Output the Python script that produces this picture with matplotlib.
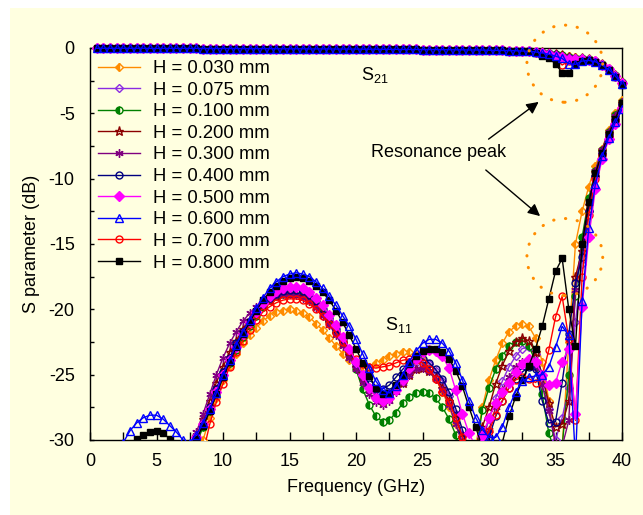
import numpy as np
import matplotlib.pyplot as plt
from matplotlib.patches import Ellipse, Rectangle
from matplotlib.ticker import MultipleLocator

plt.rcParams['font.family'] = ['Liberation Sans', 'DejaVu Sans']
plt.rcParams['mathtext.fontset'] = 'custom'
plt.rcParams['mathtext.rm'] = 'Liberation Sans'
plt.rcParams['mathtext.it'] = 'Liberation Sans'
plt.rcParams['axes.unicode_minus'] = False

labels = ['H = 0.030 mm', 'H = 0.075 mm', 'H = 0.100 mm', 'H = 0.200 mm', 'H = 0.300 mm',
          'H = 0.400 mm', 'H = 0.500 mm', 'H = 0.600 mm', 'H = 0.700 mm', 'H = 0.800 mm']
colors = ['#FF8C00', '#8A2BE2', '#008000', '#8B0000', '#800080',
          '#000080', '#FF00FF', '#0000FF', '#FF0000', '#000000']

# S21 (dB), 0.5 - 33 GHz, same for every thickness
s21_low = [-0.02, -0.02, -0.02, -0.02, -0.02, -0.02, -0.02, -0.02, -0.03, -0.03,
           -0.03, -0.03, -0.03, -0.03, -0.03, -0.03, -0.04, -0.04, -0.04, -0.04,
           -0.04, -0.04, -0.05, -0.05, -0.05, -0.05, -0.05, -0.06, -0.06, -0.06,
           -0.06, -0.06, -0.07, -0.07, -0.07, -0.07, -0.08, -0.08, -0.08, -0.08,
           -0.09, -0.09, -0.09, -0.10, -0.10, -0.10, -0.11, -0.11, -0.11, -0.12,
           -0.12, -0.12, -0.13, -0.13, -0.14, -0.14, -0.15, -0.15, -0.16, -0.17,
           -0.18, -0.19, -0.20, -0.21, -0.23, -0.25]

# S21 (dB), 33.5 - 40 GHz
s21_030 = [-0.28, -0.32, -0.38, -0.45, -0.55, -0.65, -0.72, -0.78, -0.85, -1.00, -1.25, -1.60, -2.05, -2.60]
s21_075 = [-0.28, -0.33, -0.40, -0.48, -0.58, -0.68, -0.75, -0.80, -0.87, -1.02, -1.27, -1.62, -2.10, -2.65]
s21_100 = [-0.28, -0.32, -0.38, -0.46, -0.56, -0.66, -0.73, -0.79, -0.86, -1.00, -1.25, -1.60, -2.05, -2.60]
s21_200 = [-0.28, -0.33, -0.39, -0.47, -0.57, -0.67, -0.74, -0.80, -0.87, -1.01, -1.26, -1.61, -2.07, -2.62]
s21_300 = [-0.29, -0.34, -0.41, -0.49, -0.60, -0.70, -0.77, -0.82, -0.88, -1.02, -1.27, -1.62, -2.10, -2.65]
s21_400 = [-0.30, -0.36, -0.44, -0.54, -0.66, -0.78, -0.85, -0.88, -0.90, -1.03, -1.28, -1.64, -2.12, -2.70]
s21_500 = [-0.30, -0.37, -0.46, -0.58, -0.72, -0.85, -0.88, -0.88, -0.90, -1.03, -1.28, -1.64, -2.12, -2.70]
s21_600 = [-0.30, -0.38, -0.48, -0.62, -0.80, -1.20, -1.25, -1.00, -0.95, -1.05, -1.30, -1.65, -2.15, -2.75]
s21_700 = [-0.30, -0.40, -0.55, -0.80, -1.30, -1.00, -0.90, -0.92, -0.92, -1.04, -1.30, -1.65, -2.15, -2.75]
s21_800 = [-0.40, -0.60, -0.80, -1.20, -1.90, -1.90, -1.20, -1.00, -0.95, -1.05, -1.30, -1.68, -2.20, -2.80]

# S11 (dB), 6.5 - 40 GHz step 0.5 (blue from 2.5, black from 3.5)
s11_030 = [-36, -35, -33.5, -32, -30.0, -28.3, -26.8, -25.4, -24.3, -23.4,
           -22.6, -22.0, -21.4, -20.9, -20.5, -20.2, -20.1, -20.0, -20.1, -20.3,
           -20.6, -21.1, -21.6, -22.2, -22.8, -23.4, -23.9, -24.3, -24.5, -24.4,
           -24.1, -23.9, -23.6, -23.4, -23.3, -23.3, -23.5, -23.9, -24.5, -25.3,
           -26.3, -27.5, -28.8, -30.3, -31.5, -30.5, -27.5, -25.4, -23.9, -22.6,
           -21.7, -21.3, -21.1, -21.3, -22.2, -24.0, -27.0, -30.5, -30.6, -22.5,
           -15.0, -12.5, -10.6, -9.0, -7.7, -6.3, -5.0, -4.0]
s11_075 = [-34, -33, -31.5, -30.0, -28.8, -27.5, -26.1, -24.8, -23.7, -22.7,
           -21.8, -21.0, -20.3, -19.7, -19.2, -18.9, -18.7, -18.6, -18.6, -18.8,
           -19.1, -19.6, -20.2, -20.9, -21.7, -22.5, -23.4, -24.3, -25.3, -26.1,
           -26.6, -26.7, -26.4, -25.8, -25.1, -24.5, -24.1, -24.0, -24.2, -24.7,
           -25.5, -26.6, -28.0, -29.6, -31.0, -31.5, -30.2, -28.4, -26.8, -25.5,
           -24.4, -23.6, -23.0, -22.9, -23.4, -25.0, -27.6, -30.0, -28.3, -26.0,
           -21.0, -16.5, -12.5, -9.8, -8.0, -6.6, -5.4, -4.3]
s11_100 = [-35, -34, -32, -30.3, -29.0, -27.8, -26.5, -25.2, -24.1, -23.1,
           -22.1, -21.3, -20.5, -19.8, -19.3, -19.0, -18.8, -18.7, -18.7, -18.8,
           -19.1, -19.6, -20.2, -20.9, -21.7, -22.5, -23.3, -24.6, -26.1, -27.3,
           -28.2, -28.6, -28.5, -27.9, -27.2, -26.7, -26.4, -26.3, -26.4, -26.8,
           -27.5, -28.4, -29.6, -31.0, -32.0, -31.0, -27.7, -26.0, -24.6, -23.6,
           -22.8, -22.5, -22.4, -22.8, -24.0, -26.5, -29.5, -31.0, -30.5, -25.0,
           -19.0, -14.5, -11.5, -9.4, -7.8, -6.4, -5.1, -4.1]
s11_200 = [-34, -32.5, -31.0, -29.7, -28.4, -27.0, -25.6, -24.4, -23.3, -22.4,
           -21.5, -20.8, -20.2, -19.7, -19.3, -19.0, -18.8, -18.8, -18.8, -19.0,
           -19.3, -19.7, -20.3, -21.0, -21.8, -22.6, -23.5, -24.4, -25.3, -26.1,
           -26.7, -27.0, -26.8, -26.2, -25.6, -25.0, -24.6, -24.5, -24.7, -25.2,
           -26.0, -27.0, -28.3, -29.8, -31.0, -30.5, -29.0, -27.5, -25.7, -24.3,
           -23.2, -22.5, -22.2, -22.4, -23.3, -25.0, -27.2, -29.0, -28.8, -27.0,
           -17.5, -15.5, -12.0, -9.5, -7.9, -6.5, -5.3, -4.2]
s11_300 = [-33, -32, -30.6, -29.4, -28.0, -26.5, -25.0, -23.7, -22.6, -21.7,
           -20.9, -20.3, -19.8, -19.4, -19.1, -18.9, -18.8, -18.8, -18.9, -19.1,
           -19.4, -19.9, -20.5, -21.2, -22.0, -22.8, -23.7, -24.6, -25.6, -26.5,
           -27.1, -27.3, -27.0, -26.3, -25.6, -25.0, -24.6, -24.5, -24.7, -25.3,
           -26.2, -27.3, -28.8, -30.3, -31.5, -31.5, -30.5, -29.2, -27.5, -26.2,
           -25.2, -24.4, -24.0, -24.0, -24.5, -25.8, -27.8, -30.3, -30.5, -28.5,
           -18.5, -15.0, -11.8, -9.4, -7.8, -6.4, -5.2, -4.1]
s11_400 = [-34, -33, -31.5, -30.0, -28.8, -27.5, -26.1, -24.8, -23.7, -22.6,
           -21.7, -20.9, -20.2, -19.6, -19.1, -18.8, -18.6, -18.5, -18.5, -18.6,
           -18.9, -19.4, -20.0, -20.7, -21.5, -22.3, -23.2, -24.1, -25.0, -25.7,
           -26.1, -26.1, -25.8, -25.2, -24.6, -24.1, -23.8, -23.8, -24.1, -24.6,
           -25.3, -26.3, -27.6, -29.2, -30.8, -31.5, -31.0, -29.8, -28.2, -27.0,
           -26.0, -25.3, -24.8, -24.4, -24.6, -27.0, -28.7, -28.6, -25.6, -21.9,
           -18.0, -16.0, -12.5, -9.8, -8.1, -6.7, -5.5, -4.4]
s11_500 = [-33, -32, -31, -29.8, -28.8, -27.6, -26.3, -25.0, -23.9, -22.9,
           -21.9, -21.0, -20.2, -19.5, -19.0, -18.6, -18.4, -18.3, -18.3, -18.4,
           -18.7, -19.1, -19.7, -20.4, -21.2, -22.1, -23.0, -24.0, -25.0, -26.0,
           -26.8, -27.0, -26.8, -26.2, -25.4, -24.5, -23.8, -23.3, -23.1, -23.2,
           -23.6, -24.5, -26.2, -28.0, -29.5, -30.5, -29.7, -28.3, -27.2, -26.3,
           -25.6, -24.8, -24.2, -23.8, -24.0, -25.0, -25.8, -25.6, -24.0, -23.0,
           -28.0, -19.8, -14.5, -10.8, -8.5, -7.0, -5.8, -4.6]
s11_600 = [-30.2, -29.3, -28.7, -28.3, -28.1, -28.1, -28.4, -28.9,
           -29.4, -30.0, -30.2, -29.6, -28.7, -27.6, -26.4, -25.0, -23.9, -22.7,
           -21.7, -20.8, -19.9, -19.1, -18.4, -17.9, -17.5, -17.3, -17.2, -17.3,
           -17.5, -17.9, -18.4, -19.0, -19.7, -20.5, -21.3, -22.3, -23.4, -24.5,
           -25.5, -26.2, -26.4, -25.9, -25.0, -24.0, -23.2, -22.6, -22.3, -22.3,
           -22.6, -23.2, -24.1, -25.4, -27.0, -28.3, -29.2, -29.8, -29.8, -29.0,
           -27.5, -26.3, -25.5, -25.2, -25.1, -25.0, -24.4, -22.9, -21.3, -22.0,
           -31.5, -19.4, -13.8, -10.4, -8.3, -6.9, -5.7, -4.7]
s11_700 = [-36, -35, -34, -33, -31, -28.8, -27.1, -25.7, -24.4, -23.3,
           -22.4, -21.6, -20.8, -20.2, -19.8, -19.5, -19.3, -19.2, -19.2, -19.3,
           -19.6, -20.0, -20.5, -21.1, -21.8, -22.5, -23.2, -23.8, -24.2, -24.4,
           -24.5, -24.4, -24.3, -24.1, -23.9, -23.8, -23.9, -24.1, -24.6, -25.3,
           -26.3, -27.1, -28.3, -29.8, -31.0, -31.5, -30.5, -29.3, -28.1, -27.0,
           -26.0, -25.4, -25.2, -25.3, -25.6, -25.1, -23.1, -20.6, -19.0, -22.3,
           -28.5, -17.5, -12.8, -10.0, -8.2, -6.8, -5.6, -4.5]
s11_800 = [-29.9, -29.6, -29.4, -29.3, -29.5, -29.9,
           -30.6, -31.0, -30.8, -29.9, -28.9, -27.8, -26.5, -25.2, -24.0, -22.9,
           -21.9, -21.0, -20.1, -19.3, -18.7, -18.2, -17.8, -17.6, -17.5, -17.6,
           -17.8, -18.2, -18.7, -19.3, -20.1, -21.0, -22.0, -23.0, -24.1, -25.1,
           -26.0, -26.5, -26.4, -25.8, -25.0, -24.2, -23.6, -23.2, -23.0, -23.0,
           -23.3, -23.8, -24.7, -25.9, -27.5, -29.0, -30.6, -31.0, -30.8, -30.2,
           -28.2, -26.7, -25.4, -24.3, -23.0, -21.3, -19.2, -17.1, -16.1, -20.0,
           -22.8, -15.0, -11.8, -9.6, -8.0, -6.6, -5.4, -4.2]

s21_tails = [s21_030, s21_075, s21_100, s21_200, s21_300, s21_400, s21_500, s21_600, s21_700, s21_800]
s11_all = [s11_030, s11_075, s11_100, s11_200, s11_300, s11_400, s11_500, s11_600, s11_700, s11_800]

markers = ['D', 'D', 'o', '*', (6, 2, 0), 'o', 'D', '^', 'o', 's']
fills = ['left', 'none', 'left', 'none', 'full', 'none', 'full', 'none', 'none', 'full']
msizes = [4.5, 4.5, 5, 6.5, 6, 5, 5, 5.5, 5, 5]
zorders = [3, 4, 5, 6, 7, 8, 10, 12, 9, 11]

fig = plt.figure(figsize=(6.43, 5.15), dpi=100)
fig.patch.set_facecolor('white')
fig.patches.append(Rectangle((10 / 643, 0), 1, 1 - 8 / 515, transform=fig.transFigure,
                             facecolor='#FFFFE0', edgecolor='none', zorder=-10))
ax = fig.add_axes([90 / 643, 75 / 515, 532 / 643, 392 / 515])
ax.set_facecolor('#FFFFE0')

handles = []
for i in range(10):
    s21 = np.array(s21_low + s21_tails[i])
    f21 = 0.5 * np.arange(1, len(s21) + 1)
    s11 = np.array(s11_all[i])
    f11 = 40 - 0.5 * np.arange(len(s11))[::-1]
    kw = dict(color=colors[i], marker=markers[i], fillstyle=fills[i], markersize=msizes[i],
              markerfacecoloralt='#FFFFE0', markeredgewidth=1.0, linewidth=1.0, zorder=zorders[i])
    h, = ax.plot(f21, s21, clip_on=False, label=labels[i], **kw)
    ax.plot(f11, s11, **kw)
    handles.append(h)

ax.set_xlim(0, 40)
ax.set_ylim(-30, 0)
ax.xaxis.set_major_locator(MultipleLocator(5))
ax.xaxis.set_minor_locator(MultipleLocator(2.5))
ax.yaxis.set_major_locator(MultipleLocator(5))
ax.yaxis.set_minor_locator(MultipleLocator(2.5))
ax.tick_params(axis='x', which='both', direction='in', length=6, width=1, labelsize=13, pad=9)
ax.tick_params(axis='y', which='both', direction='in', length=3, width=1, labelsize=13, pad=11)
for s in ax.spines.values():
    s.set_linewidth(1.0)

ax.set_xlabel('Frequency (GHz)', fontsize=13, labelpad=7)
ax.set_ylabel('S parameter (dB)', fontsize=13, labelpad=6)

ax.legend(handles=handles, loc='upper left', bbox_to_anchor=(8 / 532, 1 - 12 / 392),
          frameon=False, fontsize=13.3, borderpad=0, borderaxespad=0, labelspacing=0.25,
          handlelength=2.3, handletextpad=0.7, numpoints=1)

ax.text(20.4, -2.1, r'S$_{21}$', fontsize=13, va='center', ha='left')
ax.text(22.2, -21.2, r'S$_{11}$', fontsize=13, va='center', ha='left')
ax.text(26.2, -8.0, 'Resonance peak', fontsize=13, va='center', ha='center')

arrow = dict(arrowstyle='-|>', color='black', lw=1.0, mutation_scale=18)
ax.annotate('', xy=(33.9, -4.0), xytext=(29.8, -7.1), arrowprops=arrow)
ax.annotate('', xy=(34.0, -13.0), xytext=(29.6, -9.2), arrowprops=arrow)

for cy in (-1.2, -16.0):
    e = Ellipse((35.7, cy), 5.7, 5.9, fill=False, edgecolor='#FF8C00', linewidth=2.2,
                linestyle=(0, (0.1, 3.8)), capstyle='round', clip_on=False, zorder=15)
    ax.add_patch(e)

fig.savefig('out.png', dpi=100, facecolor=fig.get_facecolor())
